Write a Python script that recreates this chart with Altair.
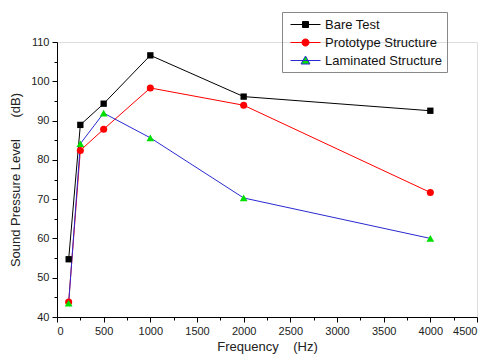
import altair as alt
import pandas as pd

freq = [125, 250, 500, 1000, 2000, 4000]
bare = [54.7, 88.9, 94.3, 106.6, 96.1, 92.5]
proto = [43.8, 82.4, 87.8, 98.3, 93.9, 71.7]
lamin = [43.5, 84.1, 91.9, 85.6, 70.3, 60.0]

series = ["Bare Test", "Prototype Structure", "Laminated Structure"]
line_colors = ["#000000", "#ff0000", "#2a2ad0"]
marker_colors = ["#000000", "#ff0000", "#00e000"]
markers = ["square", "circle", "triangle-up"]
marker_sizes = [40, 50, 60]
legend_paths = [
    "M-0.5,0H3.25M1,-0.375H1.75V0.375H1Z",
    "M1.815,0A0.44,0.44,0,1,1,0.935,0A0.44,0.44,0,1,1,1.815,0ZM-0.5,0H3.25",
    "M-0.5,0H3.25M1.375,-0.56L1.935,0.44H0.815Z",
]

rows = []
for name, vals, lc, mc, mk, ms in zip(series, [bare, proto, lamin], line_colors,
                                      marker_colors, markers, marker_sizes):
    for f, v in zip(freq, vals):
        rows.append({"f": f, "v": v, "s": name, "lc": lc, "mc": mc, "mk": mk, "ms": ms})
df = pd.DataFrame(rows)

font = "Liberation Sans"
nb = "\u00a0"
x = alt.X("f:Q", scale=alt.Scale(domain=[0, 4500], nice=False),
          axis=alt.Axis(title="Frequency" + nb * 4 + "(Hz)", values=list(range(0, 4501, 250)),
                        labelExpr="datum.value % 500 === 0 ? datum.label : ''",
                        tickSize={"condition": {"test": "datum.value % 500 === 0", "value": 5}, "value": 3},
                        format="d", grid=False, domainColor="#000", tickColor="#000",
                        labelColor="#222", titleColor="#222", labelFont=font, titleFont=font,
                        labelFontSize=11, titleFontSize=13, titleFontWeight="normal",
                        labelPadding=3, titlePadding=4))
y = alt.Y("v:Q", scale=alt.Scale(domain=[40, 110], nice=False),
          axis=alt.Axis(title="Sound Pressure Level" + nb * 6 + "(dB)", values=list(range(40, 111, 5)),
                        labelExpr="datum.value % 10 === 0 ? datum.label : ''",
                        tickSize={"condition": {"test": "datum.value % 10 === 0", "value": 5}, "value": 3},
                        grid=False, domainColor="#000", tickColor="#000",
                        labelColor="#222", titleColor="#222", labelFont=font, titleFont=font,
                        labelFontSize=11, titleFontSize=13, titleFontWeight="normal",
                        labelPadding=3, titlePadding=8))

lines = alt.Chart(df).mark_line(strokeWidth=1).encode(
    x=x, y=y, detail="s:N", stroke=alt.Stroke("lc:N", scale=None))
points = alt.Chart(df).mark_point(filled=True, opacity=1).encode(
    x=x, y=y, fill=alt.Fill("mc:N", scale=None), shape=alt.Shape("mk:N", scale=None),
    size=alt.Size("ms:Q", scale=None))

leg = alt.Legend(title=None, orient="none", legendX=225, legendY=-30, strokeColor="#888",
                 padding=4, labelFont=font, labelFontSize=13, labelColor="#111",
                 symbolSize=256, symbolStrokeWidth=1, symbolOpacity=1, rowPadding=2,
                 labelOffset=22, symbolLimit=0)
legend_layer = alt.Chart(df).mark_point(opacity=0, filled=True).encode(
    x=x, y=y,
    shape=alt.Shape("s:N", scale=alt.Scale(domain=series, range=legend_paths), legend=leg),
    fill=alt.Fill("s:N", scale=alt.Scale(domain=series, range=marker_colors), legend=leg),
    stroke=alt.Stroke("s:N", scale=alt.Scale(domain=series, range=line_colors), legend=leg),
)

chart = alt.layer(lines, points, legend_layer).properties(
    width=420, height=275,
    autosize=alt.AutoSizeParams(type="none"),
    padding={"left": 49, "top": 34, "right": 3, "bottom": 37},
).configure_view(stroke=None).configure(background="white")

chart.save("out.html", embed_options={"renderer": "svg", "actions": False})
